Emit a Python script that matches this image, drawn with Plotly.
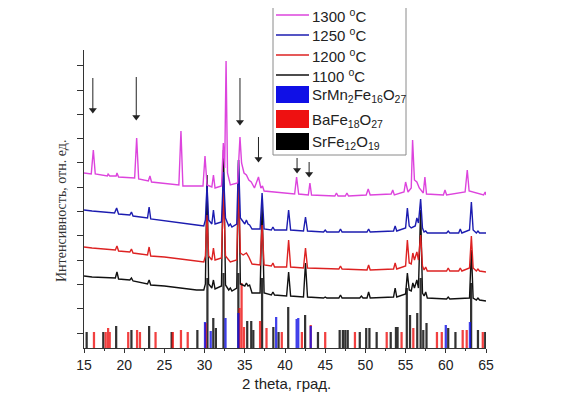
import plotly.graph_objects as go

# ---------------- data ----------------
# 2-theta positions and intensities (arbitrary units, offset curves)
x_1300 = [15.0, 15.9, 16.16, 16.4, 17.9, 18.0, 18.2, 19.0, 19.1, 19.3, 21.3, 21.55, 21.8, 23.0, 23.2, 23.4,
          26.8, 27.06, 27.3, 29.8, 30.05, 30.3, 30.9, 31.1, 31.3, 32.1, 32.33, 32.5, 32.67, 32.85, 33.2,
          34.1, 34.4, 34.6, 34.9, 35.2, 35.5, 35.8, 36.2, 36.7, 37.0, 37.2, 37.4, 39.0, 40.0, 41.2, 41.44,
          41.7, 42.9, 43.1, 43.3, 46.2, 46.4, 46.6, 47.5, 47.7, 47.9, 50.1, 50.35, 50.6, 53.2, 53.4, 53.6,
          54.8, 55.0, 55.3, 55.7, 55.87, 56.1, 56.4, 56.7, 57.2, 57.4, 57.6, 59.7, 59.9, 60.1, 62.4, 62.67,
          62.9, 64.7, 64.9, 65.0]
y_1300 = [175, 174, 198, 174, 172, 174, 172, 172, 175, 171, 170, 210, 169, 167, 172, 166,
          163, 217, 162, 162, 192, 163, 161, 173, 160, 162, 205, 180, 287, 175, 163,
          165, 211, 185, 175, 173, 168, 166, 160, 171, 160, 162, 157, 156, 155, 154, 171,
          154, 153, 165, 153, 152, 155, 152, 152, 155, 152, 153, 159, 153, 154, 158, 153,
          156, 166, 156, 160, 208, 168, 166, 160, 155, 171, 154, 153, 158, 153, 156, 178,
          157, 153, 156, 153]

x_1250 = [15.0, 16.0, 18.8, 19.06, 19.3, 20.7, 20.9, 21.1, 22.9, 23.1, 23.3, 25.0, 27.0, 29.0, 29.9, 30.1,
          30.3, 30.5, 30.9, 31.1, 31.3, 32.1, 32.35, 32.6, 33.0, 33.2, 33.4, 34.0, 34.22, 34.45, 35.0,
          35.2, 35.4, 35.6, 35.9, 36.9, 37.15, 37.4, 38.3, 38.5, 38.7, 40.2, 40.45, 40.7, 42.3, 42.55,
          42.8, 44.8, 45.0, 45.2, 46.7, 46.9, 47.1, 50.2, 50.4, 50.6, 53.5, 53.7, 53.9, 55.0, 55.22,
          55.45, 55.7, 55.9, 56.2, 56.4, 56.6, 56.87, 57.1, 57.3, 57.5, 57.7, 60.1, 60.3, 60.5, 61.6,
          61.8, 62.0, 62.95, 63.18, 63.4, 63.8, 64.0, 64.2, 65.0]
y_1250 = [138, 137, 135, 140, 134, 133, 136, 132, 130, 141, 129, 127, 125, 123, 122, 128,
          163, 128, 124, 138, 124, 126, 176, 130, 122, 124, 121, 124, 188, 130, 124,
          128, 124, 123, 119, 119, 155, 119, 118, 121, 118, 118, 138, 118, 117, 131,
          117, 116, 118, 116, 116, 119, 116, 116, 119, 116, 117, 122, 117, 120, 140,
          122, 120, 121, 122, 130, 125, 149, 120, 116, 117, 115, 115, 117, 115, 115,
          119, 115, 118, 146, 118, 115, 117, 115, 115]

x_1200 = [15.0, 16.0, 18.9, 19.1, 19.3, 20.7, 20.9, 21.1, 22.9, 23.1, 23.3, 25.0, 27.0, 29.0, 29.9, 30.1,
          30.3, 30.5, 30.9, 31.1, 31.3, 32.1, 32.35, 32.6, 33.2, 34.0, 34.22, 34.45, 34.8, 35.2, 35.5,
          35.9, 36.9, 37.15, 37.4, 38.3, 38.5, 38.7, 40.2, 40.45, 40.7, 42.3, 42.55, 42.8, 46.7, 46.9,
          47.1, 50.2, 50.4, 50.6, 53.5, 53.7, 53.9, 55.0, 55.22, 55.45, 55.7, 55.9, 56.1, 56.4, 56.6,
          56.87, 57.1, 57.3, 57.5, 57.7, 60.1, 60.3, 60.5, 61.6, 61.8, 62.0, 62.95, 63.18, 63.4, 63.8,
          64.0, 64.2, 65.0]
y_1200 = [101, 100, 98, 102, 97, 96, 99, 95, 93, 101, 92, 91, 89, 87, 86, 92,
          133, 92, 88, 100, 88, 90, 158, 92, 86, 88, 163, 95, 93, 95, 91,
          84, 83, 123, 83, 82, 85, 81, 81, 108, 81, 80, 100, 80, 79, 82,
          79, 78, 83, 78, 79, 85, 79, 82, 108, 85, 84, 95, 88, 96, 88,
          113, 82, 78, 81, 77, 77, 80, 77, 77, 80, 77, 80, 112, 80, 77,
          79, 77, 76]

x_1100 = [15.0, 16.0, 18.9, 19.1, 19.3, 20.7, 20.9, 21.1, 22.9, 23.1, 23.3, 25.0, 27.0, 29.0, 29.9, 30.1,
          30.3, 30.5, 30.9, 31.1, 31.3, 32.1, 32.35, 32.6, 33.0, 33.2, 33.4, 34.0, 34.22, 34.45, 35.0,
          35.2, 35.4, 35.6, 35.9, 36.9, 37.15, 37.4, 38.3, 38.5, 38.7, 40.2, 40.45, 40.7, 42.3, 42.55,
          42.8, 44.8, 45.0, 45.2, 46.7, 46.9, 47.1, 49.3, 49.5, 49.7, 50.2, 50.4, 50.6, 53.5, 53.7,
          53.9, 55.0, 55.22, 55.45, 55.7, 55.9, 56.1, 56.4, 56.6, 56.87, 57.1, 57.3, 57.5, 57.7, 60.1,
          60.3, 60.5, 62.95, 63.18, 63.4, 63.8, 64.0, 64.2, 65.0]
y_1100 = [72, 71, 70, 76, 69, 68, 70, 67, 64, 68, 63, 62, 60, 58, 58, 64,
          173, 64, 60, 68, 59, 62, 198, 63, 58, 60, 57, 60, 188, 64, 62,
          65, 62, 63, 55, 55, 143, 55, 53, 56, 53, 52, 76, 52, 51, 85,
          51, 50, 51, 50, 50, 53, 50, 50, 52, 50, 50, 56, 50, 51, 60,
          51, 54, 75, 58, 57, 65, 60, 68, 60, 138, 55, 52, 56, 50, 49,
          51, 49, 50, 98, 50, 48, 50, 48, 47]

# reference patterns (stick bars)
pos_SrFe12O19 = [15.33, 17.4, 19.0, 20.9, 23.1, 25.9, 29.1, 30.35, 31.08, 31.4, 32.35, 34.2, 35.3, 35.8,
                 36.06, 37.15, 38.55, 39.2, 40.4, 42.5, 44.1, 46.8, 47.2, 47.5, 47.8, 49.3, 50.1, 50.5,
                 51.4, 53.15, 53.8, 54.0, 55.15, 55.55, 56.45, 56.87, 57.2, 57.6, 60.3, 61.2, 63.15,
                 64.0, 64.9]
int_SrFe12O19 = [16, 16, 22, 18, 22, 16, 18, 70, 30, 20, 75, 75, 27, 27,
                 18, 70, 21, 16, 41, 33, 16, 18, 18, 18, 18, 16, 20, 20,
                 16, 16, 21, 21, 60, 33, 35, 70, 18, 25, 20, 16, 65,
                 18, 16]

pos_BaFe18O27 = [16.24, 17.7, 18.0, 18.2, 20.5, 21.6, 21.96, 23.9, 26.05, 27.06, 27.9, 30.13, 34.35, 34.6,
                 34.9, 36.9, 37.7, 39.6, 42.1, 43.2, 45.0, 48.7, 52.65, 54.5, 55.96, 58.9, 59.5, 62.1,
                 62.6, 64.6]
int_BaFe18O27 = [16, 16, 20, 16, 16, 18, 16, 16, 16, 18, 16, 25, 40, 65,
                 21, 27, 20, 16, 16, 23, 16, 16, 16, 16, 20, 16, 16, 18,
                 18, 16]

pos_SrMn2Fe16O27 = [30.05, 30.76, 32.6, 34.2, 38.9, 41.45, 41.65, 43.2, 60.0, 63.0]
int_SrMn2Fe16O27 = [26, 17, 30, 35, 31, 29, 30, 22, 23, 26]

# marker arrows (2theta, tail, tip)
arrow_x = [16.1, 21.5, 34.4, 36.7, 41.5, 43.0]
arrow_tail = [270, 271, 270, 211, 190, 186]
arrow_tip = [235, 228, 223, 186, 175, 171]

curve_names = ["1300 <sup>o</sup>C", "1250 <sup>o</sup>C", "1200 <sup>o</sup>C", "1100 <sup>o</sup>C"]
phase_names = ["SrMn<sub>2</sub>Fe<sub>16</sub>O<sub>27</sub>", "BaFe<sub>18</sub>O<sub>27</sub>",
               "SrFe<sub>12</sub>O<sub>19</sub>"]
x_title = "2 theta, град."
y_title = "Интенсивность, отн. ед."

curve_colors = ["#dd44dd", "#1c1cb0", "#dd2222", "#111111"]
phase_colors = ["#1010e6", "#ee1111", "#000000"]

# ---------------- figure ----------------
OFF = 8  # page body margin of the browser
W, H = 565 - OFF, 393 - OFF
ML, MR, MT, MB = 84 - OFF, 79, 50 - OFF, 45
PW, PH = W - ML - MR, H - MT - MB


def px2x(p):  # screen pixel -> paper
    return (p - OFF - ML) / PW


def py2y(p):
    return (H - MB - (p - OFF)) / PH


fig = go.Figure()

for pos, val, col, nm in [(pos_SrFe12O19, int_SrFe12O19, phase_colors[2], phase_names[2]),
                          (pos_BaFe18O27, int_BaFe18O27, phase_colors[1], phase_names[1]),
                          (pos_SrMn2Fe16O27, int_SrMn2Fe16O27, phase_colors[0], phase_names[0])]:
    fig.add_trace(go.Bar(x=pos, y=val, width=0.28, marker=dict(color=col, line=dict(width=0)),
                         opacity=0.8, name=nm, showlegend=False))

for xs, ys, col, nm in [(x_1100, y_1100, curve_colors[3], curve_names[3]),
                        (x_1200, y_1200, curve_colors[2], curve_names[2]),
                        (x_1250, y_1250, curve_colors[1], curve_names[1]),
                        (x_1300, y_1300, curve_colors[0], curve_names[0])]:
    fig.add_trace(go.Scatter(x=xs, y=ys, mode="lines", line=dict(color=col, width=1.4),
                             name=nm, showlegend=False))

shapes = []
# arrows: shaft as line shapes, head as triangle markers
for ax_, t, tip in zip(arrow_x, arrow_tail, arrow_tip):
    shapes.append(dict(type="line", xref="x", yref="y", x0=ax_, x1=ax_, y0=t, y1=tip + 4,
                       line=dict(color="#222222", width=1)))
fig.add_trace(go.Scatter(x=arrow_x, y=[v + 3 for v in arrow_tip], mode="markers",
                         marker=dict(symbol="triangle-down", size=7, color="#222222"),
                         showlegend=False, hoverinfo="skip"))

annotations = []
# manual legend
shapes.append(dict(type="rect", xref="paper", yref="paper", x0=px2x(273), x1=px2x(406), y0=py2y(155),
                   y1=py2y(7), line=dict(color="#8a8a8a", width=1), fillcolor="white", layer="above"))
line_rows = [15, 35, 55, 75]
for row, col, nm in zip(line_rows, curve_colors, curve_names):
    shapes.append(dict(type="line", xref="paper", yref="paper", x0=px2x(276), x1=px2x(309),
                       y0=py2y(row), y1=py2y(row), line=dict(color=col, width=1.3), layer="above"))
    annotations.append(dict(x=px2x(311), y=py2y(row), xref="paper", yref="paper", text=nm,
                            showarrow=False, xanchor="left", yanchor="middle", borderpad=0,
                            font=dict(family="Liberation Sans", size=15, color="#222")))
box_rows = [(86, 103), (110, 128), (133, 150)]
for (r0, r1), col, nm in zip(box_rows, phase_colors, phase_names):
    shapes.append(dict(type="rect", xref="paper", yref="paper", x0=px2x(276), x1=px2x(309),
                       y0=py2y(r1), y1=py2y(r0), line=dict(width=0), fillcolor=col, layer="above"))
    annotations.append(dict(x=px2x(311), y=py2y((r0 + r1) / 2 + 1), xref="paper", yref="paper", text=nm,
                            showarrow=False, xanchor="left", yanchor="middle", borderpad=0,
                            font=dict(family="Liberation Sans", size=15, color="#222")))

# axis titles
annotations.append(dict(x=px2x(62), y=py2y(211), xref="paper", yref="paper",
                        text=y_title, textangle=-90, showarrow=False,
                        xanchor="center", yanchor="middle",
                        font=dict(family="Liberation Serif", size=14, color="#333")))
annotations.append(dict(x=px2x(286), y=py2y(383), xref="paper", yref="paper",
                        text=x_title, showarrow=False, xanchor="center", yanchor="middle",
                        font=dict(family="Liberation Sans", size=15, color="#222")))

fig.update_layout(
    width=W, height=H,
    margin=dict(l=ML, r=MR, t=MT, b=MB, autoexpand=False),
    paper_bgcolor="white", plot_bgcolor="white",
    barmode="overlay",
    showlegend=False,
    shapes=shapes,
    annotations=annotations,
    xaxis=dict(range=[15, 65], tick0=15, dtick=5, ticks="outside", ticklen=4, tickwidth=1.2,
               tickcolor="#333", showline=True, linecolor="#333", linewidth=1.3, showgrid=False,
               zeroline=False, tickfont=dict(family="Liberation Sans", size=14, color="#222"),
               automargin=False,
               minor=dict(dtick=2.5, ticks="outside", ticklen=2, tickcolor="#333")),
    yaxis=dict(range=[0, PH], tick0=15, dtick=24.3, ticks="outside", ticklen=6, tickwidth=1.2,
               tickcolor="#333", showline=True, linecolor="#333", linewidth=1.3, showgrid=False,
               zeroline=False, showticklabels=False, automargin=False),
)

fig.write_html("out.html")
